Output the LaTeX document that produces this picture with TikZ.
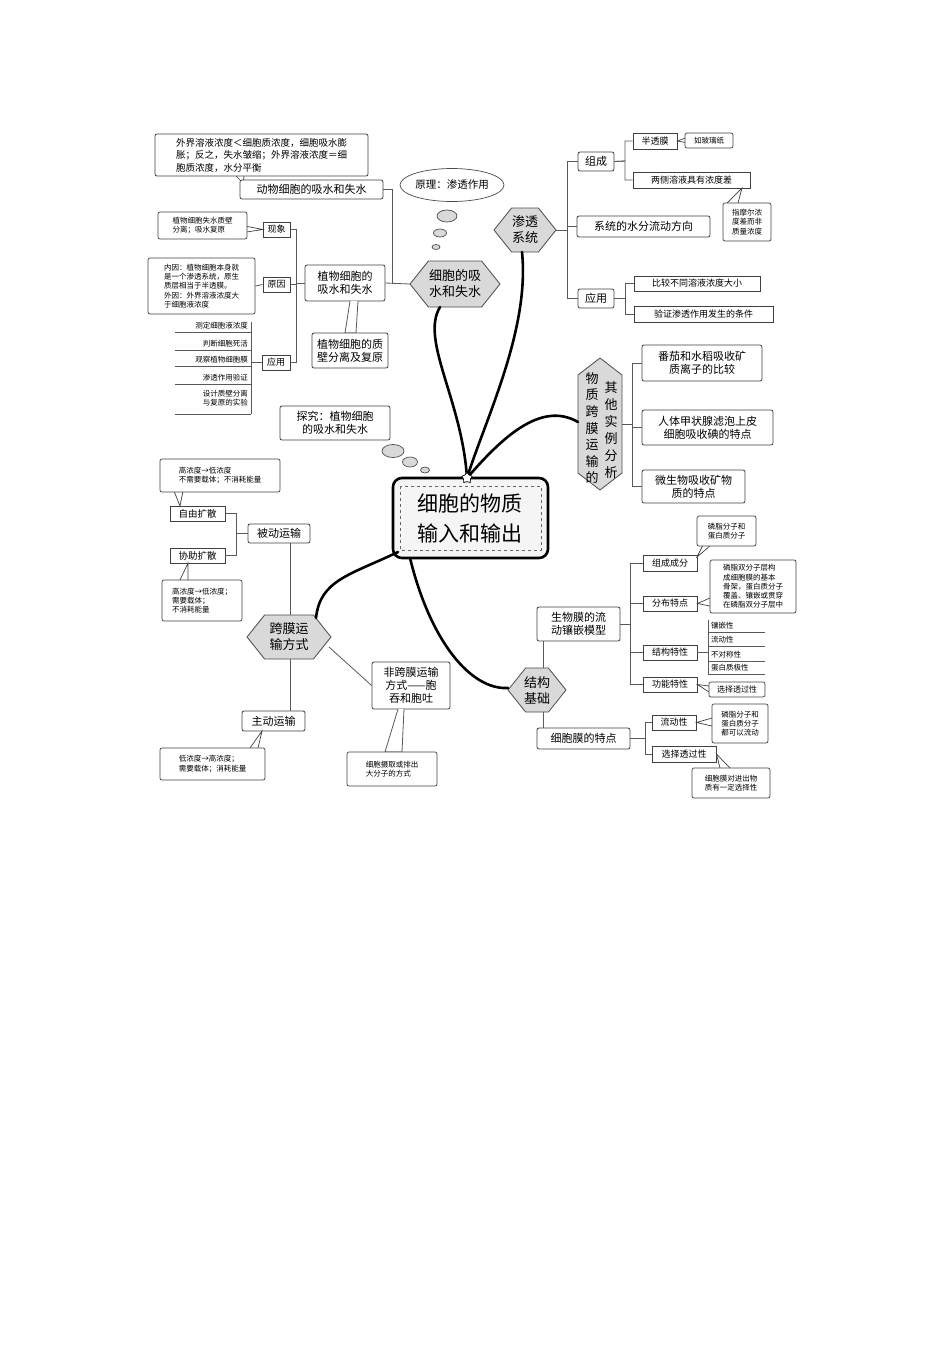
\documentclass[tikz,border=0pt]{standalone}
\usepackage{fontspec}
\setmainfont{Noto Sans CJK SC}
\usetikzlibrary{shapes.geometric}
\tikzset{
 bxs/.style={draw=black!75,line width=.8pt,rounded corners=2pt,fill=white,inner sep=1pt,align=center,font=\fontsize{11}{13}\selectfont},
 sqs/.style={draw=black!75,line width=.8pt,fill=white,inner sep=1pt,align=center,font=\fontsize{10.5}{12.5}\selectfont},
 sms/.style={draw=black!75,line width=.7pt,rounded corners=2pt,fill=white,inner sep=1pt,align=left,font=\fontsize{7.5}{9.3}\selectfont},
 smc/.style={sms,align=center},
 ln/.style={draw=black!65,line width=.8pt},
 thk/.style={line width=2.6pt,line cap=round},
 hexs/.style={draw=black!70,line width=.8pt,fill=black!15},
 bub/.style={ellipse,draw=black!70,line width=.7pt,fill=black!15,inner sep=0pt},
 lst/.style={inner sep=1pt,font=\fontsize{7.5}{9}\selectfont,align=center}
}
\newcommand\bx[7]{\node[#6,minimum width={(#4-#2)*1pt},minimum height={(#5-#3)*1pt}] (#1) at ({(#2+#4)/2},{-(#3+#5)/2}) {#7};}
\newcommand\tl[3]{\draw[draw=black!75,line width=.7pt,fill=white] (#1)--(#3)--(#2);}
\newcommand\hexh[6]{\draw[hexs] ({#2-#4/2},{-#3})--({#2-#4/2+#5*0.4},{-#3+#5/2})--({#2+#4/2-#5*0.4},{-#3+#5/2})--({#2+#4/2},{-#3})--({#2+#4/2-#5*0.4},{-#3-#5/2})--({#2-#4/2+#5*0.4},{-#3-#5/2})--cycle;
\node[inner sep=0pt,minimum width={#4*1pt},minimum height={#5*1pt},align=center,font=\fontsize{13}{16}\selectfont] (#1) at (#2,-#3) {#6};}
\begin{document}
\begin{tikzpicture}[x=1pt,y=1pt]
\useasboundingbox (0,0) rectangle (950,-1345);
% ===== center =====
\draw[line width=2.6pt,rounded corners=9pt,fill=black!4] (393,-478) rectangle (548,-558);
\draw[dashed,black!60,line width=.8pt] (400,-486) rectangle (541,-550);
\node[inner sep=0pt,font=\fontsize{21}{30}\selectfont,align=center] (ctr) at (470,-518) {细胞的物质\\输入和输出};
\coordinate (st) at (467,-478);
% ===== thick connectors =====
\hexh{hxa}{455}{284}{90}{46}{细胞的吸\\水和失水}
\hexh{hxb}{525}{230}{62}{44}{渗透\\系统}
\hexh{hxd}{289}{637}{84}{44}{跨膜运\\输方式}
\hexh{hxe}{537}{690}{58}{44}{结构\\基础}
\draw[hexs] (600,-358)--(622,-375)--(622,-473)--(600,-490)--(578,-473)--(578,-375)--cycle;
\node[inner sep=0pt,font=\fontsize{13}{16.6}\selectfont,align=center] (hxc) at (592,-428) {物\\质\\跨\\膜\\运\\输\\的};
\node[inner sep=0pt,font=\fontsize{13}{17}\selectfont,align=center] (hxc2) at (611,-430) {其\\他\\实\\例\\分\\析};
\coordinate (hxcw) at (578,-422);
\draw[thk] (st) .. controls (462,-400) and (420,-340) .. (440,-307);
\draw[thk] (st) .. controls (485,-420) and (530,-330) .. (522,-252);
\draw[thk] (st) .. controls (500,-440) and (540,-400) .. (hxcw);
\draw[thk] (398,-552) .. controls (350,-575) and (320,-580) .. (316,-618);
\draw[thk] (410,-558) .. controls (430,-640) and (470,-690) .. (508,-688);
\node[star,star points=5,draw,fill=white,inner sep=0pt,minimum size=11pt,line width=.7pt] (stn) at (st) {};
% ===== thought bubbles =====
\node[bub,fill=white,minimum width=100pt,minimum height=33pt,font=\fontsize{10.5}{12}\selectfont] (yl) at (452,-185) {原理：渗透作用};
\node[bub,minimum width=20pt,minimum height=12pt] (b1) at (447,-216) {};
\node[bub,minimum width=13pt,minimum height=8pt] (b2) at (440,-233) {};
\node[bub,minimum width=8pt,minimum height=5pt] (b3) at (436,-247) {};
\bx{tj}{280}{406}{390}{440}{bxs}{探究：植物细胞\\的吸水和失水}
\node[bub,minimum width=22pt,minimum height=13pt] (b4) at (393,-451) {};
\node[bub,minimum width=15pt,minimum height=10pt] (b5) at (410,-462) {};
\node[bub,minimum width=9pt,minimum height=6pt] (b6) at (425,-470) {};
% ===== top-left =====
\tl{230,-170}{245,-170}{243,-183}
\bx{ta}{155}{134}{368}{176}{bxs,align=left,font=\fontsize{9.5}{12.5}\selectfont}{外界溶液浓度＜细胞质浓度，细胞吸水膨\\胀；反之，失水皱缩；外界溶液浓度＝细\\胞质浓度，水分平衡}
\bx{dw}{240}{180}{383}{199}{bxs}{动物细胞的吸水和失水}
\bx{zw}{305}{265}{385}{301}{bxs}{植物细胞的\\吸水和失水}
\draw[ln] (dw.east) -- (392,-189.5) -- (392,-284);
\draw[ln] (zw.east) -- (hxa.west);
\draw[ln,fill=white] (350,-301) -- (345,-333) -- (356,-333) -- (358,-301);
\bx{zb}{312}{333}{388}{368}{bxs}{植物细胞的质\\壁分离及复原}
\bx{xx}{263}{222}{290}{237}{sqs}{\fontsize{9}{11}\selectfont 现象}
\bx{yy}{263}{277}{290}{292}{sqs}{\fontsize{9}{11}\selectfont 原因}
\bx{yt}{262}{355}{290}{370}{sqs}{\fontsize{9}{11}\selectfont 应用}
\foreach \c in {xx,yy,yt}{\draw[ln] (zw.west) -- (296,-283) |- (\c.east);}
\tl{240,-225}{240,-233}{xx.west}
\bx{xxb}{158}{212}{247}{239}{sms}{植物细胞失水质壁\\分离；吸水复原}
\bx{yyb}{148}{258}{255}{314}{sms}{内因：植物细胞本身就\\是一个渗透系统，原生\\质层相当于半透膜。\\外因：外界溶液浓度大\\于细胞液浓度}
\draw[ln] (yyb.east) -- (yy.west);
\draw[ln] (yt.west) -- (251,-362.5);
\draw[ln] (251,-322) -- (251,-414);
\foreach \t/\y/\n in {测定细胞液浓度/326/l1,判断细胞死活/344/l2,观察植物细胞膜/360/l3,渗透作用验证/378/l4}{
 \node[lst,anchor=east] (\n) at (249,-\y) {\t};
 \draw[ln,line width=.6pt] (175,-\y-6) -- (251,-\y-6);}
\node[lst,anchor=east] (l5) at (249,-398) {设计质壁分离\\与复原的实验};
\draw[ln,line width=.6pt] (175,-414) -- (251,-414);
% ===== top-right =====
\bx{zc}{578}{152}{614}{171}{bxs}{组成}
\bx{sf}{577}{216}{710}{237}{bxs}{系统的水分流动方向}
\bx{yy2}{578}{289}{614}{308}{bxs}{应用}
\foreach \c in {zc,sf,yy2}{\draw[ln] (hxb.east) -- (567,-230) |- (\c.west);}
\bx{bt}{633}{133}{677}{149}{sqs}{\fontsize{9}{11}\selectfont 半透膜}
\bx{lc}{633}{172}{750}{188}{sqs}{\fontsize{9}{11}\selectfont 两侧溶液具有浓度差}
\foreach \c in {bt,lc}{\draw[ln] (zc.east) -- (625,-161) |- (\c.west);}
\tl{688,-137}{688,-143}{bt.east}
\bx{bl}{685}{133}{733}{148}{smc}{如玻璃纸}
\tl{727,-203}{738,-203}{742,-188}
\bx{mr}{723}{203}{771}{241}{smc}{指摩尔浓\\度差而非\\质量浓度}
\bx{bj}{634}{276}{760}{291}{sqs}{\fontsize{9}{11}\selectfont 比较不同溶液浓度大小}
\bx{yz}{634}{306}{773}{322}{sqs}{\fontsize{9}{11}\selectfont 验证渗透作用发生的条件}
\foreach \c in {bj,yz}{\draw[ln] (yy2.east) -- (625,-298.5) |- (\c.west);}
\bx{fq}{642}{345}{762}{381}{bxs}{番茄和水稻吸收矿\\质离子的比较}
\bx{rt}{642}{410}{773}{445}{bxs}{人体甲状腺滤泡上皮\\细胞吸收碘的特点}
\bx{ws}{642}{470}{745}{503}{bxs}{微生物吸收矿物\\质的特点}
\foreach \c in {fq,rt,ws}{\draw[ln] (622,-424) -- (632,-424) |- (\c.west);}
% ===== bottom-left =====
\bx{bd}{248}{524}{310}{543}{bxs}{被动运输}
\bx{zy}{170}{506}{225}{521}{sqs}{\fontsize{9.5}{11}\selectfont 自由扩散}
\bx{xz}{170}{548}{225}{563}{sqs}{\fontsize{9.5}{11}\selectfont 协助扩散}
\foreach \c in {zy,xz}{\draw[ln] (bd.west) -- (236,-533.5) |- (\c.east);}
\tl{174,-491}{183,-491}{180,-506}
\bx{zyb}{160}{459}{280}{492}{sms}{高浓度→低浓度\\不需要载体；不消耗能量}
\tl{180,-580}{188,-580}{188,-563}
\bx{xzb}{162}{580}{242}{621}{sms}{高浓度→低浓度；\\需要载体；\\不消耗能量}
\bx{zd}{242}{711}{305}{731}{bxs}{主动运输}
\draw[ln] (bd.south -| 290,0) -- (290,-615);
\draw[ln] (290,-659) -- (290,-711);
\tl{250,-748}{258,-748}{262,-731}
\bx{zdb}{160}{748}{265}{780}{sms}{低浓度→高浓度；\\需要载体；消耗能量}
\bx{fk}{372}{662}{450}{709}{bxs}{非跨膜运输\\方式——胞\\吞和胞吐}
\draw[ln] (329,-647) -- (fk.west);
\draw[ln,fill=white] (398,-709) -- (385,-752) -- (402,-752) -- (404,-709);
\bx{fkb}{347}{752}{437}{786}{sms}{细胞摄取或排出\\大分子的方式}
% ===== bottom-right =====
\bx{sw}{537}{607}{620}{641}{bxs}{生物膜的流\\动镶嵌模型}
\bx{xb}{537}{728}{630}{749}{bxs}{细胞膜的特点}
\draw[ln] (543,-641) -- (543,-668);
\draw[ln] (543,-712) -- (543,-728);
\bx{zf}{643}{555}{697}{571}{sqs}{\fontsize{9}{11}\selectfont 组成成分}
\bx{fb}{643}{596}{697}{611}{sqs}{\fontsize{9}{11}\selectfont 分布特点}
\bx{jg}{643}{645}{697}{660}{sqs}{\fontsize{9}{11}\selectfont 结构特性}
\bx{gn}{643}{677}{697}{692}{sqs}{\fontsize{9}{11}\selectfont 功能特性}
\foreach \c in {zf,fb,jg,gn}{\draw[ln] (sw.east) -- (630,-624) |- (\c.west);}
\tl{703,-545}{711,-545}{697,-557}
\bx{zfb}{697}{516}{756}{546}{smc}{磷脂分子和\\蛋白质分子}
\tl{710,-598}{710,-606}{fb.east}
\bx{fbb}{710}{560}{796}{613}{sms}{磷脂双分子层构\\成细胞膜的基本\\骨架，蛋白质分子\\覆盖、镶嵌或贯穿\\在磷脂双分子层中}
\foreach \t/\y/\n in {镶嵌性/626/s1,流动性/640/s2,不对称性/655/s3,蛋白质极性/668/s4}{
 \node[lst,anchor=west] (\n) at (710,-\y) {\t};
 \draw[ln,line width=.6pt] (708,-\y-6) -- (765,-\y-6);}
\draw[ln] (jg.east) -- (708,-652.5);
\draw[ln] (708,-620) -- (708,-674);
\tl{709,-686}{709,-692}{gn.east}
\bx{xt}{709}{682}{765}{697}{smc}{\fontsize{8}{10}\selectfont 选择透过性}
\bx{ld}{652}{715}{696}{730}{sqs}{\fontsize{9}{11}\selectfont 流动性}
\bx{xz2}{652}{746}{716}{762}{sqs}{\fontsize{9}{11}\selectfont 选择透过性}
\foreach \c in {ld,xz2}{\draw[ln] (xb.east) -- (645,-738.5) |- (\c.west);}
\tl{712,-718}{712,-726}{ld.east}
\bx{ldb}{712}{704}{768}{743}{smc}{磷脂分子和\\蛋白质分子\\都可以流动}
\tl{720,-768}{730,-768}{xz2.east}
\bx{xzb2}{692}{768}{770}{798}{smc}{细胞膜对进出物\\质有一定选择性}
\end{tikzpicture}
\end{document}
